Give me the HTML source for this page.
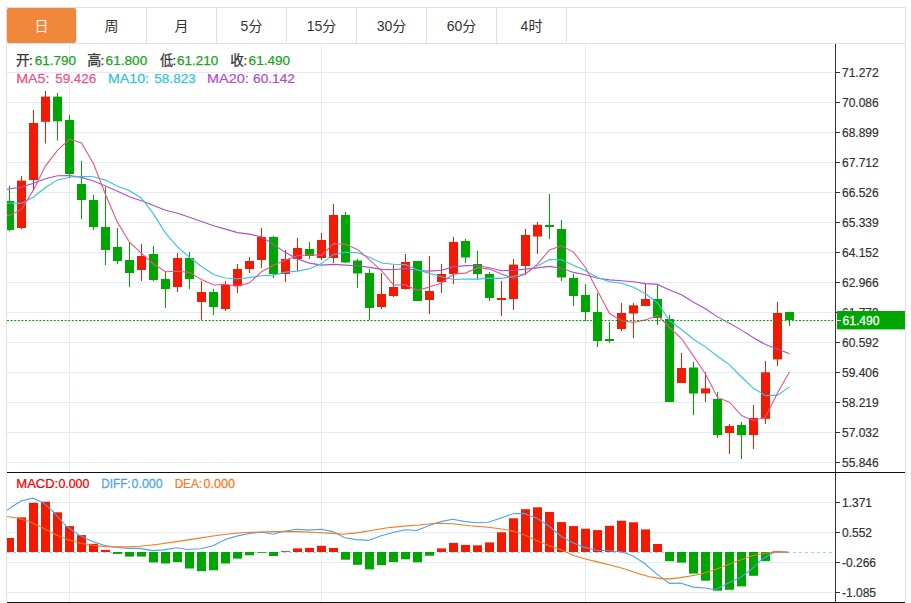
<!DOCTYPE html>
<html><head><meta charset="utf-8"><title>chart</title>
<style>
html,body{margin:0;padding:0;background:#fff;}
body{width:911px;height:603px;overflow:hidden;}
svg{display:block;font-family:"Liberation Sans","Noto Sans CJK SC",sans-serif;}
</style></head><body>
<svg width="911" height="603" viewBox="0 0 911 603">
<defs><clipPath id="cp"><rect x="7" y="44" width="828" height="428"/></clipPath><clipPath id="cm"><rect x="7" y="473" width="828" height="129"/></clipPath></defs>
<rect x="0" y="0" width="911" height="603" fill="#fff"/>
<rect x="6" y="7" width="900" height="1" fill="#e1e1e1"/>
<rect x="6" y="43" width="900" height="1" fill="#e1e1e1"/>
<rect x="6" y="7" width="1" height="596" fill="#e1e1e1"/>
<rect x="905" y="7" width="1" height="596" fill="#e1e1e1"/>
<rect x="146" y="8" width="1" height="35" fill="#e1e1e1"/>
<rect x="216" y="8" width="1" height="35" fill="#e1e1e1"/>
<rect x="286" y="8" width="1" height="35" fill="#e1e1e1"/>
<rect x="356" y="8" width="1" height="35" fill="#e1e1e1"/>
<rect x="426" y="8" width="1" height="35" fill="#e1e1e1"/>
<rect x="496" y="8" width="1" height="35" fill="#e1e1e1"/>
<rect x="566" y="8" width="1" height="35" fill="#e1e1e1"/>
<rect x="7" y="8" width="69" height="35" rx="2" fill="#f0873b"/>
<rect x="76" y="8" width="1" height="35" fill="#e6ecf2"/>
<text x="41.5" y="31" text-anchor="middle" font-size="14" fill="#fff">日</text>
<text x="111.5" y="31" text-anchor="middle" font-size="14" fill="#333">周</text>
<text x="181.5" y="31" text-anchor="middle" font-size="14" fill="#333">月</text>
<text x="251.5" y="31" text-anchor="middle" font-size="14" fill="#333">5分</text>
<text x="321.5" y="31" text-anchor="middle" font-size="14" fill="#333">15分</text>
<text x="391.5" y="31" text-anchor="middle" font-size="14" fill="#333">30分</text>
<text x="461.5" y="31" text-anchor="middle" font-size="14" fill="#333">60分</text>
<text x="531.5" y="31" text-anchor="middle" font-size="14" fill="#333">4时</text>
<rect x="7" y="72" width="828" height="1" fill="#e3ebf3"/>
<rect x="7" y="102" width="828" height="1" fill="#e3ebf3"/>
<rect x="7" y="132" width="828" height="1" fill="#e3ebf3"/>
<rect x="7" y="162" width="828" height="1" fill="#e3ebf3"/>
<rect x="7" y="192" width="828" height="1" fill="#e3ebf3"/>
<rect x="7" y="222" width="828" height="1" fill="#e3ebf3"/>
<rect x="7" y="252" width="828" height="1" fill="#e3ebf3"/>
<rect x="7" y="282" width="828" height="1" fill="#e3ebf3"/>
<rect x="7" y="312" width="828" height="1" fill="#e3ebf3"/>
<rect x="7" y="342" width="828" height="1" fill="#e3ebf3"/>
<rect x="7" y="372" width="828" height="1" fill="#e3ebf3"/>
<rect x="7" y="402" width="828" height="1" fill="#e3ebf3"/>
<rect x="7" y="432" width="828" height="1" fill="#e3ebf3"/>
<rect x="7" y="462" width="828" height="1" fill="#e3ebf3"/>
<rect x="7" y="502" width="828" height="1" fill="#e3ebf3"/>
<rect x="7" y="532" width="828" height="1" fill="#e3ebf3"/>
<rect x="7" y="562" width="828" height="1" fill="#e3ebf3"/>
<rect x="7" y="592" width="828" height="1" fill="#e3ebf3"/>
<rect x="69" y="44" width="1" height="558" fill="#e3ebf3"/>
<rect x="321" y="44" width="1" height="558" fill="#e3ebf3"/>
<rect x="585" y="44" width="1" height="558" fill="#e3ebf3"/>
<rect x="835" y="44" width="1" height="558" fill="#333333"/>
<rect x="7" y="472" width="898" height="1" fill="#111"/>
<rect x="7" y="602" width="898" height="1" fill="#111"/>
<rect x="836" y="72" width="4" height="1" fill="#333333"/>
<text x="842" y="77" font-size="12" fill="#333" stroke="#333" stroke-width="0.2">71.272</text>
<rect x="836" y="102" width="4" height="1" fill="#333333"/>
<text x="842" y="107" font-size="12" fill="#333" stroke="#333" stroke-width="0.2">70.086</text>
<rect x="836" y="132" width="4" height="1" fill="#333333"/>
<text x="842" y="137" font-size="12" fill="#333" stroke="#333" stroke-width="0.2">68.899</text>
<rect x="836" y="162" width="4" height="1" fill="#333333"/>
<text x="842" y="167" font-size="12" fill="#333" stroke="#333" stroke-width="0.2">67.712</text>
<rect x="836" y="192" width="4" height="1" fill="#333333"/>
<text x="842" y="197" font-size="12" fill="#333" stroke="#333" stroke-width="0.2">66.526</text>
<rect x="836" y="222" width="4" height="1" fill="#333333"/>
<text x="842" y="227" font-size="12" fill="#333" stroke="#333" stroke-width="0.2">65.339</text>
<rect x="836" y="252" width="4" height="1" fill="#333333"/>
<text x="842" y="257" font-size="12" fill="#333" stroke="#333" stroke-width="0.2">64.152</text>
<rect x="836" y="282" width="4" height="1" fill="#333333"/>
<text x="842" y="287" font-size="12" fill="#333" stroke="#333" stroke-width="0.2">62.966</text>
<rect x="836" y="312" width="4" height="1" fill="#333333"/>
<text x="842" y="317" font-size="12" fill="#333" stroke="#333" stroke-width="0.2">61.779</text>
<rect x="836" y="342" width="4" height="1" fill="#333333"/>
<text x="842" y="347" font-size="12" fill="#333" stroke="#333" stroke-width="0.2">60.592</text>
<rect x="836" y="372" width="4" height="1" fill="#333333"/>
<text x="842" y="377" font-size="12" fill="#333" stroke="#333" stroke-width="0.2">59.406</text>
<rect x="836" y="402" width="4" height="1" fill="#333333"/>
<text x="842" y="407" font-size="12" fill="#333" stroke="#333" stroke-width="0.2">58.219</text>
<rect x="836" y="432" width="4" height="1" fill="#333333"/>
<text x="842" y="437" font-size="12" fill="#333" stroke="#333" stroke-width="0.2">57.032</text>
<rect x="836" y="462" width="4" height="1" fill="#333333"/>
<text x="842" y="467" font-size="12" fill="#333" stroke="#333" stroke-width="0.2">55.846</text>
<rect x="836" y="502" width="4" height="1" fill="#333333"/>
<text x="842" y="507" font-size="12" fill="#333" stroke="#333" stroke-width="0.2">1.371</text>
<rect x="836" y="532" width="4" height="1" fill="#333333"/>
<text x="842" y="537" font-size="12" fill="#333" stroke="#333" stroke-width="0.2">0.552</text>
<rect x="836" y="562" width="4" height="1" fill="#333333"/>
<text x="842" y="567" font-size="12" fill="#333" stroke="#333" stroke-width="0.2">-0.266</text>
<rect x="836" y="592" width="4" height="1" fill="#333333"/>
<text x="842" y="597" font-size="12" fill="#333" stroke="#333" stroke-width="0.2">-1.085</text>
<g clip-path="url(#cp)">
<rect x="9" y="186" width="1" height="45" fill="#00a600"/>
<rect x="5" y="201" width="9" height="29" fill="#00a600"/>
<rect x="21" y="176" width="1" height="53" fill="#f21a00"/>
<rect x="17" y="180.6" width="9" height="47.400000000000006" fill="#f21a00"/>
<rect x="33" y="110" width="1" height="81" fill="#f21a00"/>
<rect x="29" y="123" width="9" height="57" fill="#f21a00"/>
<rect x="45" y="91" width="1" height="52.400000000000006" fill="#f21a00"/>
<rect x="41" y="96.6" width="9" height="25.200000000000003" fill="#f21a00"/>
<rect x="57" y="93" width="1" height="47.599999999999994" fill="#00a600"/>
<rect x="53" y="96.6" width="9" height="24.700000000000003" fill="#00a600"/>
<rect x="69" y="115" width="1" height="63" fill="#00a600"/>
<rect x="65" y="120" width="9" height="54" fill="#00a600"/>
<rect x="81" y="161" width="1" height="58" fill="#00a600"/>
<rect x="77" y="184" width="9" height="16" fill="#00a600"/>
<rect x="93" y="195" width="1" height="35" fill="#00a600"/>
<rect x="89" y="200" width="9" height="27" fill="#00a600"/>
<rect x="105" y="187" width="1" height="78" fill="#00a600"/>
<rect x="101" y="227" width="9" height="23" fill="#00a600"/>
<rect x="117" y="228" width="1" height="36" fill="#00a600"/>
<rect x="113" y="247" width="9" height="14" fill="#00a600"/>
<rect x="129" y="242" width="1" height="45" fill="#00a600"/>
<rect x="125" y="260" width="9" height="13" fill="#00a600"/>
<rect x="141" y="244" width="1" height="37" fill="#f21a00"/>
<rect x="137" y="256" width="9" height="14" fill="#f21a00"/>
<rect x="153" y="246" width="1" height="35" fill="#00a600"/>
<rect x="149" y="254" width="9" height="26" fill="#00a600"/>
<rect x="165" y="271" width="1" height="37" fill="#00a600"/>
<rect x="161" y="279" width="9" height="10" fill="#00a600"/>
<rect x="177" y="253" width="1" height="39" fill="#f21a00"/>
<rect x="173" y="258" width="9" height="29" fill="#f21a00"/>
<rect x="189" y="252" width="1" height="37" fill="#00a600"/>
<rect x="185" y="258" width="9" height="21" fill="#00a600"/>
<rect x="201" y="281" width="1" height="39" fill="#f21a00"/>
<rect x="197" y="292" width="9" height="10" fill="#f21a00"/>
<rect x="213" y="289" width="1" height="26" fill="#00a600"/>
<rect x="209" y="292" width="9" height="15" fill="#00a600"/>
<rect x="225" y="281" width="1" height="30" fill="#f21a00"/>
<rect x="221" y="285" width="9" height="24" fill="#f21a00"/>
<rect x="237" y="264" width="1" height="29" fill="#f21a00"/>
<rect x="233" y="269" width="9" height="17" fill="#f21a00"/>
<rect x="249" y="257" width="1" height="16" fill="#f21a00"/>
<rect x="245" y="261" width="9" height="8" fill="#f21a00"/>
<rect x="261" y="228" width="1" height="40" fill="#f21a00"/>
<rect x="257" y="237" width="9" height="23" fill="#f21a00"/>
<rect x="273" y="236" width="1" height="42" fill="#00a600"/>
<rect x="269" y="237" width="9" height="37" fill="#00a600"/>
<rect x="285" y="250" width="1" height="32" fill="#f21a00"/>
<rect x="281" y="259" width="9" height="15" fill="#f21a00"/>
<rect x="297" y="238" width="1" height="33" fill="#f21a00"/>
<rect x="293" y="248" width="9" height="11" fill="#f21a00"/>
<rect x="309" y="242" width="1" height="17" fill="#00a600"/>
<rect x="305" y="249" width="9" height="7" fill="#00a600"/>
<rect x="321" y="233" width="1" height="27" fill="#f21a00"/>
<rect x="317" y="240" width="9" height="18" fill="#f21a00"/>
<rect x="333" y="204" width="1" height="59" fill="#f21a00"/>
<rect x="329" y="215" width="9" height="43" fill="#f21a00"/>
<rect x="345" y="212" width="1" height="51" fill="#00a600"/>
<rect x="341" y="215" width="9" height="47.5" fill="#00a600"/>
<rect x="357" y="259" width="1" height="29" fill="#00a600"/>
<rect x="353" y="260.5" width="9" height="13.0" fill="#00a600"/>
<rect x="369" y="269" width="1" height="51" fill="#00a600"/>
<rect x="365" y="273" width="9" height="35" fill="#00a600"/>
<rect x="381" y="273" width="1" height="36" fill="#f21a00"/>
<rect x="377" y="294" width="9" height="13" fill="#f21a00"/>
<rect x="393" y="265" width="1" height="32" fill="#f21a00"/>
<rect x="389" y="287" width="9" height="9" fill="#f21a00"/>
<rect x="405" y="254" width="1" height="35.5" fill="#f21a00"/>
<rect x="401" y="262" width="9" height="27" fill="#f21a00"/>
<rect x="417" y="261" width="1" height="40" fill="#00a600"/>
<rect x="413" y="261" width="9" height="40" fill="#00a600"/>
<rect x="429" y="256" width="1" height="58" fill="#f21a00"/>
<rect x="425" y="291" width="9" height="9" fill="#f21a00"/>
<rect x="441" y="264" width="1" height="29" fill="#f21a00"/>
<rect x="437" y="274" width="9" height="8" fill="#f21a00"/>
<rect x="453" y="237" width="1" height="47" fill="#f21a00"/>
<rect x="449" y="242" width="9" height="32" fill="#f21a00"/>
<rect x="465" y="239" width="1" height="24" fill="#00a600"/>
<rect x="461" y="241" width="9" height="16.5" fill="#00a600"/>
<rect x="477" y="251" width="1" height="29" fill="#00a600"/>
<rect x="473" y="264" width="9" height="10" fill="#00a600"/>
<rect x="489" y="272" width="1" height="29" fill="#00a600"/>
<rect x="485" y="274" width="9" height="24" fill="#00a600"/>
<rect x="501" y="281" width="1" height="35" fill="#f21a00"/>
<rect x="497" y="298" width="9" height="2" fill="#f21a00"/>
<rect x="513" y="259" width="1" height="51" fill="#f21a00"/>
<rect x="509" y="264.6" width="9" height="34.39999999999998" fill="#f21a00"/>
<rect x="525" y="229" width="1" height="46" fill="#f21a00"/>
<rect x="521" y="235" width="9" height="31" fill="#f21a00"/>
<rect x="537" y="222" width="1" height="32" fill="#f21a00"/>
<rect x="533" y="224.8" width="9" height="11.699999999999989" fill="#f21a00"/>
<rect x="549" y="194" width="1" height="45" fill="#00a600"/>
<rect x="545" y="225" width="9" height="2" fill="#00a600"/>
<rect x="561" y="220" width="1" height="61" fill="#00a600"/>
<rect x="557" y="229" width="9" height="48.5" fill="#00a600"/>
<rect x="573" y="274" width="1" height="32" fill="#00a600"/>
<rect x="569" y="278" width="9" height="18" fill="#00a600"/>
<rect x="585" y="284" width="1" height="37" fill="#00a600"/>
<rect x="581" y="295" width="9" height="17" fill="#00a600"/>
<rect x="597" y="293" width="1" height="54" fill="#00a600"/>
<rect x="593" y="312" width="9" height="29" fill="#00a600"/>
<rect x="609" y="322" width="1" height="21" fill="#00a600"/>
<rect x="605" y="339" width="9" height="2" fill="#00a600"/>
<rect x="621" y="303" width="1" height="28" fill="#f21a00"/>
<rect x="617" y="313" width="9" height="16" fill="#f21a00"/>
<rect x="633" y="303" width="1" height="35" fill="#f21a00"/>
<rect x="629" y="305.3" width="9" height="8.199999999999989" fill="#f21a00"/>
<rect x="645" y="284" width="1" height="22" fill="#f21a00"/>
<rect x="641" y="299" width="9" height="7" fill="#f21a00"/>
<rect x="657" y="284" width="1" height="41" fill="#00a600"/>
<rect x="653" y="299" width="9" height="19" fill="#00a600"/>
<rect x="669" y="315" width="1" height="87" fill="#00a600"/>
<rect x="665" y="319" width="9" height="83" fill="#00a600"/>
<rect x="681" y="353" width="1" height="30" fill="#f21a00"/>
<rect x="677" y="368" width="9" height="15" fill="#f21a00"/>
<rect x="693" y="362" width="1" height="53" fill="#00a600"/>
<rect x="689" y="367.5" width="9" height="26.0" fill="#00a600"/>
<rect x="705" y="372" width="1" height="30" fill="#f21a00"/>
<rect x="701" y="388.4" width="9" height="5.0" fill="#f21a00"/>
<rect x="717" y="392" width="1" height="46" fill="#00a600"/>
<rect x="713" y="399" width="9" height="36" fill="#00a600"/>
<rect x="729" y="424" width="1" height="30" fill="#f21a00"/>
<rect x="725" y="426" width="9" height="7" fill="#f21a00"/>
<rect x="741" y="422" width="1" height="37" fill="#00a600"/>
<rect x="737" y="425" width="9" height="10.199999999999989" fill="#00a600"/>
<rect x="753" y="405" width="1" height="44" fill="#f21a00"/>
<rect x="749" y="418" width="9" height="17" fill="#f21a00"/>
<rect x="765" y="361" width="1" height="63" fill="#f21a00"/>
<rect x="761" y="372.3" width="9" height="46.5" fill="#f21a00"/>
<rect x="777" y="302" width="1" height="64" fill="#f21a00"/>
<rect x="773" y="313" width="9" height="46.39999999999998" fill="#f21a00"/>
<rect x="789" y="312" width="1" height="14" fill="#00a600"/>
<rect x="785" y="312" width="9" height="8" fill="#00a600"/>
<polyline points="6.0,189.7 9.5,188.8 21.5,187.1 33.5,183.2 45.5,178.7 57.5,175.7 69.5,175.6 81.5,177.4 93.5,181.0 105.5,186.0 117.5,191.3 129.5,196.8 141.5,200.8 153.5,205.5 165.5,210.3 177.5,213.3 189.5,217.3 201.5,221.4 213.5,225.7 225.5,229.1 237.5,232.6 249.5,234.1 261.5,236.9 273.5,244.5 285.5,252.6 297.5,258.9 309.5,263.1 321.5,265.1 333.5,264.4 345.5,265.1 357.5,265.7 369.5,267.4 381.5,269.4 393.5,269.7 405.5,268.4 417.5,270.5 429.5,271.1 441.5,270.2 453.5,266.9 465.5,265.6 477.5,265.8 489.5,267.7 501.5,270.7 513.5,270.3 525.5,269.1 537.5,267.9 549.5,266.4 561.5,268.3 573.5,272.4 585.5,274.8 597.5,278.2 609.5,279.9 621.5,280.8 633.5,281.7 645.5,283.6 657.5,284.4 669.5,290.0 681.5,294.7 693.5,302.3 705.5,308.8 717.5,316.9 729.5,323.3 741.5,330.1 753.5,337.8 765.5,344.6 777.5,349.1 789.5,353.7" fill="none" stroke="#ad4fc8" stroke-width="1.1"/>
<polyline points="6.0,203.7 9.5,203.0 21.5,203.4 33.5,197.0 45.5,187.5 57.5,179.9 69.5,177.2 81.5,176.3 93.5,176.8 105.5,180.1 117.5,186.3 129.5,190.7 141.5,198.2 153.5,213.9 165.5,233.1 177.5,246.8 189.5,257.3 201.5,266.5 213.5,274.5 225.5,278.0 237.5,278.8 249.5,277.6 261.5,275.7 273.5,275.1 285.5,272.1 297.5,271.1 309.5,268.8 321.5,263.6 333.5,254.4 345.5,252.2 357.5,252.6 369.5,257.3 381.5,263.0 393.5,264.3 405.5,264.6 417.5,269.9 429.5,273.4 441.5,276.8 453.5,279.5 465.5,279.0 477.5,279.1 489.5,278.1 501.5,278.4 513.5,276.2 525.5,273.5 537.5,265.9 549.5,259.5 561.5,259.8 573.5,265.2 585.5,270.7 597.5,277.4 609.5,281.7 621.5,283.2 633.5,287.3 645.5,293.7 657.5,303.0 669.5,320.5 681.5,329.5 693.5,339.3 705.5,346.9 717.5,356.3 729.5,364.8 741.5,377.0 753.5,388.3 765.5,395.6 777.5,395.1 789.5,386.9" fill="none" stroke="#34c3e0" stroke-width="1.1"/>
<polyline points="6.0,215.4 9.5,215.3 21.5,209.6 33.5,189.9 45.5,165.8 57.5,150.3 69.5,139.1 81.5,143.0 93.5,163.8 105.5,194.5 117.5,222.4 129.5,242.2 141.5,253.4 153.5,264.0 165.5,271.8 177.5,271.2 189.5,272.4 201.5,279.6 213.5,285.0 225.5,284.2 237.5,286.4 249.5,282.8 261.5,271.8 273.5,265.2 285.5,260.0 297.5,255.8 309.5,254.8 321.5,255.4 333.5,243.6 345.5,244.3 357.5,249.4 369.5,259.8 381.5,270.6 393.5,285.0 405.5,284.9 417.5,290.4 429.5,287.0 441.5,283.0 453.5,274.0 465.5,273.1 477.5,267.7 489.5,269.1 501.5,273.9 513.5,278.4 525.5,273.9 537.5,264.1 549.5,249.9 561.5,245.8 573.5,252.1 585.5,267.5 597.5,290.7 609.5,313.5 621.5,320.6 633.5,322.5 645.5,319.9 657.5,315.3 669.5,327.5 681.5,338.5 693.5,356.1 705.5,374.0 717.5,397.4 729.5,402.2 741.5,415.6 753.5,420.5 765.5,417.3 777.5,392.9 789.5,371.7" fill="none" stroke="#e9548c" stroke-width="1.1"/>
</g>
<line x1="7" y1="320.5" x2="835" y2="320.5" stroke="#00a600" stroke-width="1" stroke-dasharray="2,1.6"/>
<rect x="837" y="311" width="68" height="18.4" fill="#00a600"/>
<rect x="837" y="320" width="4" height="1" fill="#fff"/>
<text transform="translate(842.60,325) scale(0.9518,1)" font-size="12.7" fill="#fff" stroke="#fff" stroke-width="0.25">61.490</text>
<g clip-path="url(#cm)">
<line x1="7" y1="552.5" x2="835" y2="552.5" stroke="#9fd3f0" stroke-width="1" stroke-dasharray="3,3"/>
<rect x="5" y="538.0" width="9" height="14.0" fill="#f21a00"/>
<rect x="17" y="517.4" width="9" height="34.6" fill="#f21a00"/>
<rect x="29" y="502.8" width="9" height="49.2" fill="#f21a00"/>
<rect x="41" y="501.7" width="9" height="50.3" fill="#f21a00"/>
<rect x="53" y="512.3" width="9" height="39.7" fill="#f21a00"/>
<rect x="65" y="526.1" width="9" height="25.9" fill="#f21a00"/>
<rect x="77" y="535.1" width="9" height="16.9" fill="#f21a00"/>
<rect x="89" y="543.8" width="9" height="8.2" fill="#f21a00"/>
<rect x="101" y="549.9" width="9" height="2.1" fill="#f21a00"/>
<rect x="113" y="552" width="9" height="1.9" fill="#00a600"/>
<rect x="125" y="552" width="9" height="4.6" fill="#00a600"/>
<rect x="137" y="552" width="9" height="4.6" fill="#00a600"/>
<rect x="149" y="552" width="9" height="10.4" fill="#00a600"/>
<rect x="161" y="552" width="9" height="11.5" fill="#00a600"/>
<rect x="173" y="552" width="9" height="10.1" fill="#00a600"/>
<rect x="185" y="552" width="9" height="16.5" fill="#00a600"/>
<rect x="197" y="552" width="9" height="19.2" fill="#00a600"/>
<rect x="209" y="552" width="9" height="18.3" fill="#00a600"/>
<rect x="221" y="552" width="9" height="11.5" fill="#00a600"/>
<rect x="233" y="552" width="9" height="6.6" fill="#00a600"/>
<rect x="245" y="552" width="9" height="3.3" fill="#00a600"/>
<rect x="257" y="552" width="9" height="0.8" fill="#00a600"/>
<rect x="269" y="552" width="9" height="4.0" fill="#00a600"/>
<rect x="281" y="551.2" width="9" height="0.8" fill="#f21a00"/>
<rect x="293" y="548.4" width="9" height="3.6" fill="#f21a00"/>
<rect x="305" y="548.0" width="9" height="4.0" fill="#f21a00"/>
<rect x="317" y="545.8" width="9" height="6.2" fill="#f21a00"/>
<rect x="329" y="548.0" width="9" height="4.0" fill="#f21a00"/>
<rect x="341" y="552" width="9" height="7.7" fill="#00a600"/>
<rect x="353" y="552" width="9" height="12.8" fill="#00a600"/>
<rect x="365" y="552" width="9" height="17.4" fill="#00a600"/>
<rect x="377" y="552" width="9" height="13.2" fill="#00a600"/>
<rect x="389" y="552" width="9" height="10.1" fill="#00a600"/>
<rect x="401" y="552" width="9" height="7.3" fill="#00a600"/>
<rect x="413" y="552" width="9" height="10.3" fill="#00a600"/>
<rect x="425" y="552" width="9" height="3.7" fill="#00a600"/>
<rect x="437" y="548.4" width="9" height="3.6" fill="#f21a00"/>
<rect x="449" y="542.9" width="9" height="9.1" fill="#f21a00"/>
<rect x="461" y="544.9" width="9" height="7.1" fill="#f21a00"/>
<rect x="473" y="545.3" width="9" height="6.7" fill="#f21a00"/>
<rect x="485" y="542.4" width="9" height="9.6" fill="#f21a00"/>
<rect x="497" y="532.3" width="9" height="19.7" fill="#f21a00"/>
<rect x="509" y="518.3" width="9" height="33.7" fill="#f21a00"/>
<rect x="521" y="509.2" width="9" height="42.8" fill="#f21a00"/>
<rect x="533" y="507.3" width="9" height="44.7" fill="#f21a00"/>
<rect x="545" y="511.9" width="9" height="40.1" fill="#f21a00"/>
<rect x="557" y="522.1" width="9" height="29.9" fill="#f21a00"/>
<rect x="569" y="526.1" width="9" height="25.9" fill="#f21a00"/>
<rect x="581" y="528.7" width="9" height="23.3" fill="#f21a00"/>
<rect x="593" y="530.1" width="9" height="21.9" fill="#f21a00"/>
<rect x="605" y="525.8" width="9" height="26.2" fill="#f21a00"/>
<rect x="617" y="520.7" width="9" height="31.3" fill="#f21a00"/>
<rect x="629" y="522.3" width="9" height="29.7" fill="#f21a00"/>
<rect x="641" y="529.4" width="9" height="22.6" fill="#f21a00"/>
<rect x="653" y="544.0" width="9" height="8.0" fill="#f21a00"/>
<rect x="665" y="552" width="9" height="9.2" fill="#00a600"/>
<rect x="677" y="552" width="9" height="10.6" fill="#00a600"/>
<rect x="689" y="552" width="9" height="21.6" fill="#00a600"/>
<rect x="701" y="552" width="9" height="28.7" fill="#00a600"/>
<rect x="713" y="552" width="9" height="38.7" fill="#00a600"/>
<rect x="725" y="552" width="9" height="37.8" fill="#00a600"/>
<rect x="737" y="552" width="9" height="34.4" fill="#00a600"/>
<rect x="749" y="552" width="9" height="23.8" fill="#00a600"/>
<rect x="761" y="552" width="9" height="9.2" fill="#00a600"/>
<rect x="773" y="551.3" width="9" height="0.7" fill="#f21a00"/>
<polyline points="6.9,510.4 13.7,505.5 21.0,501.0 32.8,498.2 43.8,503.1 52.9,511.5 65.7,525.6 78.5,534.7 91.2,541.1 104.0,545.3 116.8,547.5 127.7,548.4 140.0,548.4 152.8,550.6 163.7,549.9 176.5,547.8 187.4,549.5 200.2,548.8 213.0,545.7 225.8,539.3 238.5,535.6 251.3,533.2 262.3,532.3 273.2,534.2 282.3,531.6 296.4,529.2 309.2,530.1 321.1,529.2 332.9,531.6 344.8,537.8 356.6,539.6 368.5,540.4 380.4,536.0 393.1,532.5 405.0,529.8 416.9,530.5 431.0,524.7 441.9,521.4 452.8,519.2 463.8,521.4 476.6,522.8 488.4,522.3 500.3,518.3 513.1,513.7 524.0,513.4 536.8,518.3 549.6,526.5 561.4,536.5 571.0,542.0 583.7,547.1 596.5,550.2 609.3,550.8 622.0,552.0 633.0,556.1 644.0,563.0 656.7,573.9 669.5,583.4 680.4,583.1 693.2,587.1 704.6,588.0 715.5,589.8 728.3,583.1 740.2,577.6 750.2,570.3 763.0,558.4 773.9,552.4 781.2,551.7 788.5,552.0" fill="none" stroke="#4ba3ea" stroke-width="1.1"/>
<polyline points="6.9,516.5 18.2,518.3 29.2,521.4 42.0,527.4 54.7,534.3 67.5,539.6 80.3,543.3 93.1,545.3 105.8,546.6 118.6,546.9 131.4,546.6 140.0,546.2 158.2,544.2 176.5,541.6 194.7,538.9 213.0,536.0 225.8,534.2 242.2,532.7 258.6,532.0 276.9,531.6 298.2,531.6 316.5,532.5 332.9,533.4 343.0,534.2 356.6,532.9 371.2,530.5 385.8,528.0 404.1,526.1 418.7,525.0 436.4,523.2 452.8,523.8 469.3,525.8 485.7,527.0 500.3,528.7 513.1,531.1 525.8,535.6 538.6,541.5 551.4,546.6 564.2,551.1 572.8,555.3 585.5,559.0 598.3,562.1 611.1,565.2 623.9,568.8 636.6,573.0 649.4,576.7 662.2,578.9 669.5,578.9 680.4,577.6 695.0,575.2 704.6,573.0 717.4,568.8 728.3,564.5 741.1,559.7 752.0,555.7 763.0,553.5 773.9,552.0 788.5,552.2" fill="none" stroke="#f37a1e" stroke-width="1.1"/>
</g>
<text transform="translate(15.89,65) scale(1.0157,1)" font-size="13.5" fill="#333" stroke="#333" stroke-width="0.25">开</text>
<text x="28.97" y="64.8" font-size="13.5" fill="#333" stroke="#333" stroke-width="0.25">:</text>
<text x="34.83" y="64.8" font-size="13.5" fill="#1aa31a" stroke="#1aa31a" stroke-width="0.25">61.790</text>
<text transform="translate(87.37,65) scale(1.0377,1)" font-size="13.5" fill="#333" stroke="#333" stroke-width="0.25">高</text>
<text x="100.57" y="64.8" font-size="13.5" fill="#333" stroke="#333" stroke-width="0.25">:</text>
<text transform="translate(105.62,64.8) scale(1.0076,1)" font-size="13.5" fill="#1aa31a" stroke="#1aa31a" stroke-width="0.25">61.800</text>
<text transform="translate(159.91,65) scale(0.9641,1)" font-size="13.5" fill="#333" stroke="#333" stroke-width="0.25">低</text>
<text x="172.57" y="64.8" font-size="13.5" fill="#333" stroke="#333" stroke-width="0.25">:</text>
<text x="177.02" y="64.8" font-size="13.5" fill="#1aa31a" stroke="#1aa31a" stroke-width="0.25">61.210</text>
<text transform="translate(230.37,65) scale(1.0090,1)" font-size="13.5" fill="#333" stroke="#333" stroke-width="0.25">收</text>
<text x="243.57" y="64.8" font-size="13.5" fill="#333" stroke="#333" stroke-width="0.25">:</text>
<text transform="translate(248.62,64.8) scale(1.0051,1)" font-size="13.5" fill="#1aa31a" stroke="#1aa31a" stroke-width="0.25">61.490</text>
<text transform="translate(16.23,83) scale(1.0558,1)" font-size="13.5" fill="#e9548c" stroke="#e9548c" stroke-width="0.25">MA5:</text>
<text transform="translate(55.26,83) scale(0.9910,1)" font-size="13.5" fill="#e9548c" stroke="#e9548c" stroke-width="0.25">59.426</text>
<text transform="translate(108.04,83) scale(1.0524,1)" font-size="13.5" fill="#34c3e0" stroke="#34c3e0" stroke-width="0.25">MA10:</text>
<text x="154.36" y="83" font-size="13.5" fill="#34c3e0" stroke="#34c3e0" stroke-width="0.25">58.823</text>
<text transform="translate(207.02,83) scale(1.0687,1)" font-size="13.5" fill="#ad4fc8" stroke="#ad4fc8" stroke-width="0.25">MA20:</text>
<text transform="translate(253.12,83) scale(1.0117,1)" font-size="13.5" fill="#ad4fc8" stroke="#ad4fc8" stroke-width="0.25">60.142</text>
<text transform="translate(16.33,488) scale(1.0390,1)" font-size="12.5" fill="#f00000" stroke="#f00000" stroke-width="0.25">MACD:</text>
<text transform="translate(58.42,488) scale(0.9897,1)" font-size="12.5" fill="#f00000" stroke="#f00000" stroke-width="0.25">0.000</text>
<text transform="translate(101.34,488) scale(0.9351,1)" font-size="12.5" fill="#4ba3ea" stroke="#4ba3ea" stroke-width="0.25">DIFF:</text>
<text transform="translate(131.62,488) scale(0.9930,1)" font-size="12.5" fill="#4ba3ea" stroke="#4ba3ea" stroke-width="0.25">0.000</text>
<text transform="translate(174.64,488) scale(0.9403,1)" font-size="12.5" fill="#f37a1e" stroke="#f37a1e" stroke-width="0.25">DEA:</text>
<text transform="translate(203.51,488) scale(1.0062,1)" font-size="12.5" fill="#f37a1e" stroke="#f37a1e" stroke-width="0.25">0.000</text>
</svg>
</body></html>
